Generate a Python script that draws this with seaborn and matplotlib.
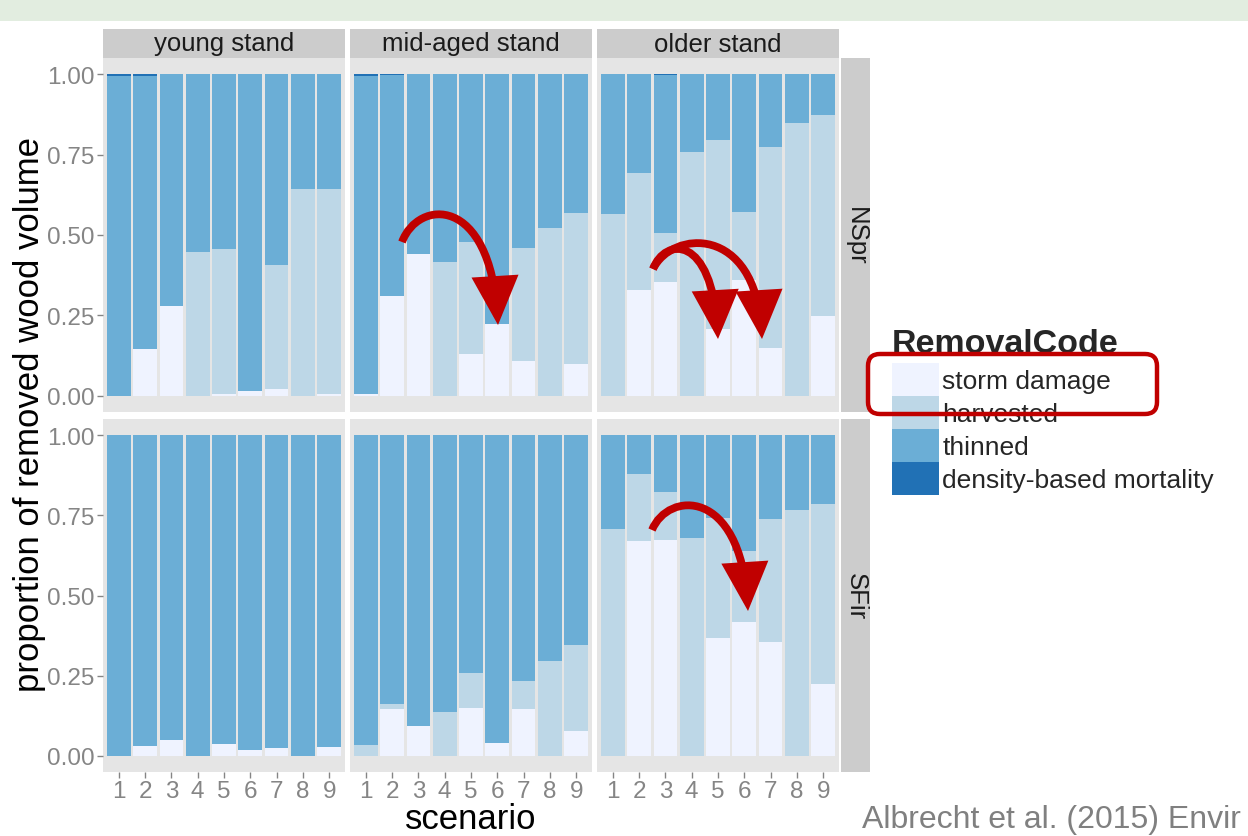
import matplotlib
matplotlib.use("Agg")
import matplotlib.pyplot as plt
import numpy as np
import pandas as pd
import seaborn as sns
from matplotlib.patches import FancyArrowPatch, FancyBboxPatch, Rectangle, Patch
from matplotlib.path import Path

# ---------------- data ----------------
scenarios = [1, 2, 3, 4, 5, 6, 7, 8, 9]
stands = ["young stand", "mid-aged stand", "older stand"]
species = ["NSpr", "SFir"]
codes = ["storm damage", "harvested", "thinned", "density-based mortality"]
colors = ["#EFF3FF", "#BDD7E7", "#6BAED6", "#2171B5"]
ytick_vals = [0.0, 0.25, 0.50, 0.75, 1.00]
ytick_labels = ["0.00", "0.25", "0.50", "0.75", "1.00"]

# NSpr
storm_nspr_young = [0.000, 0.147, 0.280, 0.000, 0.007, 0.016, 0.020, 0.000, 0.007]
harv_nspr_young = [0.000, 0.000, 0.000, 0.446, 0.449, 0.000, 0.386, 0.642, 0.635]
thin_nspr_young = [0.995, 0.848, 0.720, 0.554, 0.544, 0.984, 0.594, 0.358, 0.358]
dens_nspr_young = [0.005, 0.005, 0.000, 0.000, 0.000, 0.000, 0.000, 0.000, 0.000]

storm_nspr_mid = [0.007, 0.309, 0.440, 0.000, 0.130, 0.222, 0.107, 0.000, 0.100]
harv_nspr_mid = [0.000, 0.000, 0.000, 0.417, 0.349, 0.000, 0.354, 0.523, 0.467]
thin_nspr_mid = [0.987, 0.688, 0.560, 0.583, 0.521, 0.778, 0.539, 0.477, 0.433]
dens_nspr_mid = [0.006, 0.003, 0.000, 0.000, 0.000, 0.000, 0.000, 0.000, 0.000]

storm_nspr_old = [0.000, 0.330, 0.355, 0.000, 0.207, 0.360, 0.150, 0.000, 0.247]
harv_nspr_old = [0.565, 0.362, 0.151, 0.759, 0.589, 0.213, 0.624, 0.848, 0.626]
thin_nspr_old = [0.435, 0.308, 0.491, 0.241, 0.204, 0.427, 0.226, 0.152, 0.127]
dens_nspr_old = [0.000, 0.000, 0.003, 0.000, 0.000, 0.000, 0.000, 0.000, 0.000]

# SFir
storm_sfir_young = [0.000, 0.031, 0.049, 0.000, 0.038, 0.019, 0.026, 0.000, 0.029]
harv_sfir_young = [0.000, 0.000, 0.000, 0.000, 0.000, 0.000, 0.000, 0.000, 0.000]
thin_sfir_young = [1.000, 0.969, 0.951, 1.000, 0.962, 0.981, 0.974, 1.000, 0.971]
dens_sfir_young = [0.000, 0.000, 0.000, 0.000, 0.000, 0.000, 0.000, 0.000, 0.000]

storm_sfir_mid = [0.000, 0.145, 0.093, 0.000, 0.150, 0.041, 0.147, 0.000, 0.078]
harv_sfir_mid = [0.034, 0.018, 0.000, 0.138, 0.109, 0.000, 0.086, 0.297, 0.268]
thin_sfir_mid = [0.966, 0.837, 0.907, 0.862, 0.741, 0.959, 0.767, 0.703, 0.654]
dens_sfir_mid = [0.000, 0.000, 0.000, 0.000, 0.000, 0.000, 0.000, 0.000, 0.000]

storm_sfir_old = [0.000, 0.669, 0.672, 0.000, 0.369, 0.416, 0.355, 0.000, 0.225]
harv_sfir_old = [0.706, 0.210, 0.152, 0.680, 0.373, 0.222, 0.384, 0.767, 0.561]
thin_sfir_old = [0.294, 0.121, 0.176, 0.320, 0.258, 0.362, 0.261, 0.233, 0.214]
dens_sfir_old = [0.000, 0.000, 0.000, 0.000, 0.000, 0.000, 0.000, 0.000, 0.000]

panels = {
    ("NSpr", "young stand"): [storm_nspr_young, harv_nspr_young, thin_nspr_young, dens_nspr_young],
    ("NSpr", "mid-aged stand"): [storm_nspr_mid, harv_nspr_mid, thin_nspr_mid, dens_nspr_mid],
    ("NSpr", "older stand"): [storm_nspr_old, harv_nspr_old, thin_nspr_old, dens_nspr_old],
    ("SFir", "young stand"): [storm_sfir_young, harv_sfir_young, thin_sfir_young, dens_sfir_young],
    ("SFir", "mid-aged stand"): [storm_sfir_mid, harv_sfir_mid, thin_sfir_mid, dens_sfir_mid],
    ("SFir", "older stand"): [storm_sfir_old, harv_sfir_old, thin_sfir_old, dens_sfir_old],
}

records = []
for (sp, st), layers in panels.items():
    for code, vals in zip(codes, layers):
        for sc, v in zip(scenarios, vals):
            records.append({"species": sp, "stand": st, "scenario": sc,
                            "RemovalCode": code, "value": v})
df = pd.DataFrame(records)

# ---------------- style ----------------
sns.set_theme(style="white")
plt.rcParams["font.family"] = ["Liberation Sans", "DejaVu Sans"]

W, H = 1248, 837
fig = plt.figure(figsize=(W / 100, H / 100), dpi=100)
fig.patch.set_facecolor("white")
fig.patches.append(Rectangle((0, 1 - 22 / H), 1, 22 / H, transform=fig.transFigure,
                             facecolor="#E2EDE0", edgecolor="none", zorder=0))


def px_axes(x0, y0, x1, y1):
    return fig.add_axes([x0 / W, 1 - y1 / H, (x1 - x0) / W, (y1 - y0) / H])


col_x = [(103, 345), (350, 592), (597, 839)]
row_y = [(59, 413), (420, 773)]
tick_col = "#858585"
strip_bg = "#CCCCCC"
panel_bg = "#E5E5E5"

for r, sp in enumerate(species):
    for c, st in enumerate(stands):
        x0, x1 = col_x[c]
        y0, y1 = row_y[r]
        ax = px_axes(x0, y0, x1, y1)
        ax.set_facecolor(panel_bg)
        sub = df[(df.species == sp) & (df.stand == st)]
        piv = sub.pivot(index="scenario", columns="RemovalCode", values="value")[codes]
        cum = piv.cumsum(axis=1).reset_index()
        for k in reversed(range(len(codes))):
            sns.barplot(data=cum, x="scenario", y=codes[k], order=scenarios,
                        color=colors[k], saturation=1, width=0.9, errorbar=None,
                        linewidth=0, edgecolor="none", ax=ax)
        ax.set_xlim(-0.6, 8.6)
        ax.set_ylim(-0.05, 1.05)
        ax.set_xlabel("")
        ax.set_ylabel("")
        for s in ax.spines.values():
            s.set_visible(False)
        ax.set_yticks(ytick_vals)
        ax.set_xticks(range(len(scenarios)))
        if c == 0:
            ax.set_yticklabels(ytick_labels)
            ax.tick_params(axis="y", left=True, length=4, width=1, color=tick_col,
                           labelcolor=tick_col, labelsize=17.5, pad=2)
        else:
            ax.set_yticklabels([])
            ax.tick_params(axis="y", left=False, length=0)
        if r == 1:
            ax.set_xticklabels([str(s) for s in scenarios])
            ax.tick_params(axis="x", bottom=True, length=4, width=1, color=tick_col,
                           labelcolor=tick_col, labelsize=17.5, pad=2)
        else:
            ax.set_xticklabels([])
            ax.tick_params(axis="x", bottom=False, length=0)

        # top strips
        if r == 0:
            sa = px_axes(x0, 30, x1, 59)
            sa.set_facecolor(strip_bg)
            sa.set_xticks([]); sa.set_yticks([])
            for s in sa.spines.values():
                s.set_visible(False)
            sa.text(0.5, 0.5, st, ha="center", va="center", fontsize=18.5,
                    color="#1A1A1A", transform=sa.transAxes)
    # right strips
    y0, y1 = row_y[r]
    ra = px_axes(841, y0, 870, y1)
    ra.set_facecolor(strip_bg)
    ra.set_xticks([]); ra.set_yticks([])
    for s in ra.spines.values():
        s.set_visible(False)
    ra.text(0.5, 0.5, sp, ha="center", va="center", rotation=270, fontsize=18.5,
            color="#1A1A1A", transform=ra.transAxes)

# axis titles
fig.text(30 / W, 1 - 415 / H, "proportion of removed wood volume", rotation=90,
         ha="center", va="center", fontsize=25, color="black")
fig.text(471 / W, 1 - 829 / H, "scenario", ha="center", va="baseline",
         fontsize=25, color="black")

# legend
fs_leg = 19
fs_px = fs_leg * 100 / 72
key_h = 33 / fs_px
hh = (key_h - 0.245) / 0.65
handles = [Patch(facecolor=col, edgecolor="none", label=lab) for col, lab in zip(colors, codes)]
leg = fig.legend(handles=handles, loc="upper left", bbox_to_anchor=(892 / W, 1 - 329 / H),
                 frameon=False, fontsize=fs_leg, title="RemovalCode",
                 title_fontproperties={"weight": "bold", "size": 24.5}, alignment="left",
                 handlelength=47 / fs_px, handleheight=hh, labelspacing=0,
                 handletextpad=0.12, borderpad=0, borderaxespad=0)
leg._legend_box.sep = 3

# citation
fig.text(862 / W, 1 - 828 / H, "Albrecht et al. (2015) Envir", ha="left",
         va="baseline", fontsize=23, color="#808080")

# annotation overlay (red arrows, red box)
ov = fig.add_axes([0, 0, 1, 1])
ov.set_xlim(0, W)
ov.set_ylim(H, 0)
ov.axis("off")
ov.patch.set_alpha(0)
ov.set_zorder(10)
red = "#C00000"

arrow_paths = [
    [(402, 243), (418, 200), (490, 195), (498, 326)],
    [(653, 270), (665, 238), (712, 235), (718, 340)],
    [(653, 270), (672, 231), (755, 225), (762, 340)],
    [(652, 531), (668, 492), (740, 488), (748, 612)],
]
for verts in arrow_paths:
    p = Path(verts, [Path.MOVETO, Path.CURVE4, Path.CURVE4, Path.CURVE4])
    arr = FancyArrowPatch(path=p, arrowstyle="-|>,head_length=2.6,head_width=1.25",
                          mutation_scale=10, lw=5.6, color=red, shrinkA=0, shrinkB=0,
                          capstyle="butt", joinstyle="miter")
    ov.add_patch(arr)

box = FancyBboxPatch((868, 355), 289, 60, boxstyle="round,pad=0,rounding_size=12",
                     fill=False, edgecolor=red, linewidth=3.2)
ov.add_patch(box)

fig.savefig("out.png", dpi=100)
